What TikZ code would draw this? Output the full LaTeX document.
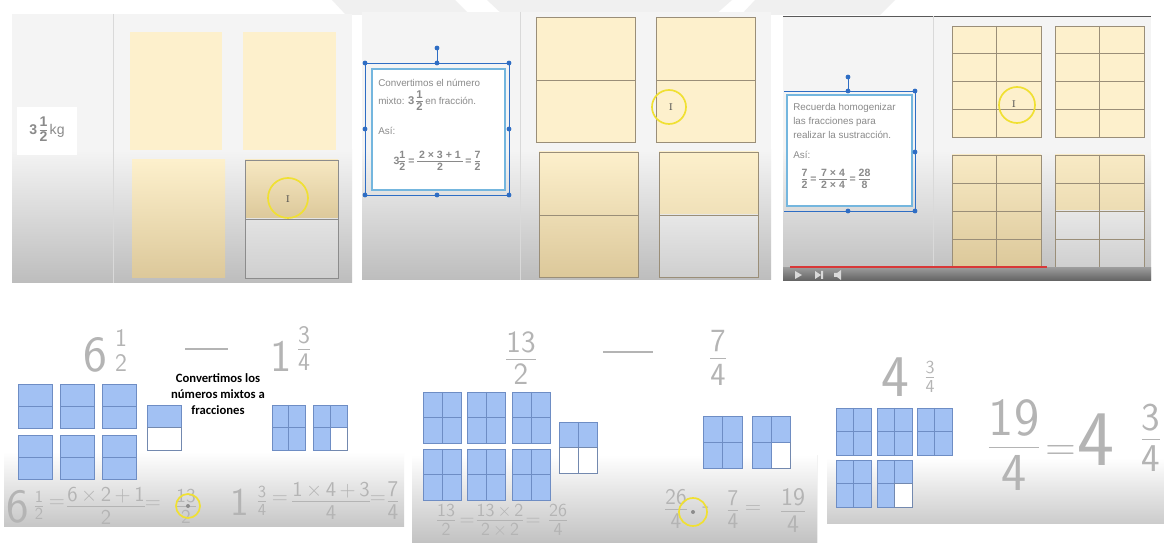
\documentclass[tikz,border=0pt]{standalone}
\usepackage{fontspec}
\newfontfamily\scrfont{Liberation Sans}
\newfontfamily\notefont{Carlito}
\definecolor{cream}{HTML}{FDF0CC}
\definecolor{deeptan}{HTML}{DCC89A}
\definecolor{boxline}{HTML}{9A8E78}
\definecolor{boxgray}{HTML}{CFCFCF}
\definecolor{scrbg}{HTML}{F4F4F4}
\definecolor{scrdark}{HTML}{BDBDBD}
\definecolor{scrtext}{HTML}{8A8A8A}
\definecolor{selblue}{HTML}{2E6DC4}
\definecolor{boxcyan}{HTML}{74B6DE}
\definecolor{ringyellow}{HTML}{F0E032}
\definecolor{barred}{HTML}{D83838}
\definecolor{sqblue}{HTML}{A2C1F3}
\definecolor{sqline}{HTML}{6E8DC4}
\definecolor{hwgray}{HTML}{B4B4B4}
\definecolor{wmark}{HTML}{F0F0F0}
% stacked fraction, bar width as option
\newcommand{\hfr}[3][0.7pt]{{\setlength{\arrayrulewidth}{#1}\renewcommand{\arraystretch}{0.7}%
  \begin{tabular}{@{}c@{}}#2\\\hline\rule{0pt}{0.8em}#3\end{tabular}}}
\newcommand{\hwf}[1]{\sffamily\fontsize{#1}{#1}\selectfont}

\begin{document}
\begin{tikzpicture}[x=0.025cm,y=-0.025cm,
   scr/.style={font=\scrfont\fontsize{7}{8}\selectfont,text=scrtext,inner sep=0pt},
   hw/.style={text=hwgray,inner sep=0pt},
   hwline/.style={draw=hwgray,line width=0.8pt},
   ring/.style={draw=ringyellow,line width=1.2pt},
   cur/.style={font=\fontsize{7}{7}\selectfont,text=black!70,inner sep=0pt},
   tanbox/.style={draw=boxline,line width=0.5pt},
   bsq/.style={fill=sqblue,draw=sqline,line width=0.6pt},
   wsq/.style={fill=white,draw=sqline!70!gray,line width=0.6pt},
   bdiv/.style={draw=sqline,line width=0.6pt}]
  \useasboundingbox (0,0) rectangle (1164,543);
  \fill[white] (0,0) rectangle (1164,543);
  % faint watermark at the top
  \fill[wmark] (332,0) -- (455,0) -- (470,15) -- (346,15) -- cycle;
  \fill[wmark] (487,0) -- (732,0) -- (715,15) -- (503,15) -- cycle;
  \fill[wmark] (755,0) -- (895,0) -- (880,15) -- (741,15) -- cycle;

  % ---- panel 1 : 3 1/2 kg ----
  \fill[scrbg] (12,14) rectangle (352,283);
  \shade[top color=scrbg,bottom color=scrdark] (12,150) rectangle (352,283);
  \draw[black!15] (113,14) -- (113,283);
  \node[scr,fill=white,minimum width=43pt,minimum height=34pt,
        font=\scrfont\fontsize{10}{11}\selectfont] (kg) at (47,131)
        {{\bfseries 3\,\hfr[0.5pt]{1}{2}}\,kg};
  \fill[cream] (130,32) rectangle (222,150);
  \fill[cream] (243,32) rectangle (336,150);
  \shade[top color=cream,bottom color=deeptan] (132,160) rectangle (225,278);
  \shade[top color=cream!80!deeptan,bottom color=deeptan] (245,160) rectangle (338,219);
  \shade[top color=boxgray!60!white,bottom color=boxgray] (245,219) rectangle (338,278);
  \draw[tanbox,draw=black!45] (245,160) rectangle (338,278) (245,219) -- (338,219);
  \draw[ring] (288,198) circle[radius=20];
  \node[cur] (curA) at (288,199) {I};

  % ---- panel 2 : mixed number to fraction ----
  \fill[scrbg] (362,12) rectangle (771,280);
  \shade[top color=scrbg,bottom color=scrdark] (362,150) rectangle (771,280);
  \draw[black!15] (520,12) -- (520,280);
  \fill[cream] (536,17) rectangle (635,142);
  \fill[cream] (656,17) rectangle (755,142);
  \draw[tanbox] (536,17) rectangle (635,142) (536,80) -- (635,80);
  \draw[tanbox] (656,17) rectangle (755,142) (656,80) -- (755,80);
  \shade[top color=cream,bottom color=deeptan] (539,152) rectangle (638,277);
  \draw[tanbox] (539,152) rectangle (638,277) (539,215) -- (638,215);
  \shade[top color=cream,bottom color=cream!60!deeptan] (659,152) rectangle (758,215);
  \shade[top color=boxgray!50!white,bottom color=boxgray] (659,215) rectangle (758,277);
  \draw[tanbox] (659,152) rectangle (758,277) (659,215) -- (758,215);
  \draw[ring] (669,107) circle[radius=17];
  \node[cur] (curB) at (671,107) {I};
  % text box with selection handles
  \fill[white] (372,69) rectangle (505,190);
  \draw[boxcyan,line width=1pt] (372,69) rectangle (505,190);
  \draw[selblue,line width=0.6pt] (365,63) rectangle (509,195) (437,48) -- (437,63);
  \foreach \p in {(365,63),(437,63),(509,63),(365,129),(509,129),(365,195),(437,195),(509,195),(437,48)}
    \fill[selblue] \p circle[radius=2.4];
  \node[scr,anchor=west] (convA) at (378,83) {Convertimos el número};
  \node[scr,anchor=west] (convB) at (378,102)
    {mixto: {\bfseries\fontsize{8}{9}\selectfont 3\,\hfr[0.4pt]{1}{2}} en fracción.};
  \node[scr,anchor=west] (convC) at (378,131) {Así:};
  \node[scr,font=\scrfont\fontsize{7.5}{8}\selectfont] (convEq) at (437,162)
    {\bfseries 3\hfr[0.4pt]{1}{2}\;=\;\hfr[0.4pt]{\,2 × 3 + 1\,}{2}\;=\;\hfr[0.4pt]{7}{2}};

  % ---- panel 3 : common denominator ----
  \fill[scrbg] (783,16) rectangle (1151,280);
  \shade[top color=scrbg,bottom color=scrdark] (783,150) rectangle (1151,280);
  \draw[black!65,line width=0.6pt] (783,16) -- (1151,16);
  \draw[black!15] (933,16) -- (933,268);
  \fill[cream] (952,26) rectangle (1041,137);
  \fill[cream] (1055,26) rectangle (1144,137);
  \shade[top color=cream!85!deeptan,bottom color=deeptan] (952,155) rectangle (1041,268);
  \shade[top color=cream!85!deeptan,bottom color=cream!50!deeptan] (1055,155) rectangle (1144,211);
  \shade[top color=boxgray!50!white,bottom color=boxgray] (1055,211) rectangle (1144,267);
  \foreach \x in {952,1055} {
    \draw[tanbox] (\x,26) rectangle +(89,111) (\x+44.5,26) -- +(0,111);
    \foreach \k in {1,2,3} \draw[tanbox] (\x,26+27.75*\k) -- +(89,0);
    \draw[tanbox] (\x,155) rectangle +(89,113) (\x+44.5,155) -- +(0,113);
    \foreach \k in {1,2,3} \draw[tanbox] (\x,155+28.1*\k) -- +(89,0);
  }
  \draw[ring] (1017,105) circle[radius=18];
  \node[cur] (curC) at (1014,104) {I};
  \fill[white] (787,95) rectangle (912,206);
  \draw[boxcyan,line width=1pt] (787,95) rectangle (912,206);
  \draw[selblue,line width=0.6pt] (784,91) -- (915,91) -- (915,211) -- (784,211) (848,77) -- (848,91);
  \foreach \p in {(848,91),(915,91),(915,152),(915,211),(848,211),(848,77)}
    \fill[selblue] \p circle[radius=2.4];
  \node[scr,anchor=west] (homA) at (793,108) {Recuerda homogenizar};
  \node[scr,anchor=west] (homB) at (793,122) {las fracciones para};
  \node[scr,anchor=west] (homC) at (793,135) {realizar la sustracción.};
  \node[scr,anchor=west] (homD) at (793,155) {Así:};
  \node[scr,font=\scrfont\fontsize{7.5}{8}\selectfont] (homEq) at (836,180)
    {\bfseries \hfr[0.4pt]{7}{2}\;=\;\hfr[0.4pt]{\,7 × 4\,}{2 × 4}\;=\;\hfr[0.4pt]{28}{8}};
  % player bar
  \shade[top color=black!40,bottom color=black!62] (783,268) rectangle (1151,281);
  \draw[barred,line width=1.5pt] (790,267) -- (1047,267);
  \fill[white!85!black] (795,271) -- (795,279) -- (802,275) -- cycle;
  \fill[white!85!black] (815,271) -- (815,279) -- (821,275) -- cycle (821,271) rectangle (823,279);
  \fill[white!85!black] (834,273) rectangle (837,277) (837,273) -- (841,270) -- (841,280) -- (837,277) -- cycle;

  % ---- panel 4 : 6 1/2 - 1 3/4 ----
  \shade[top color=white,bottom color=black!22] (4,452) rectangle (404,526);
  \node[hw,font=\hwf{36}] (six) at (95,355) {6};
  \node[hw,font=\hwf{18}] (sixFr) at (121,353) {\hfr[0pt]{1}{2}};
  \coordinate (dashAl) at (185,349);
  \coordinate (dashAr) at (228,349);
  \draw[hwline] (dashAl) -- (dashAr);
  \node[hw,font=\hwf{32}] (one) at (281,356) {1};
  \node[hw,font=\hwf{18}] (oneFr) at (304,351) {\hfr{3}{4}};
  \node[font=\notefont\bfseries\fontsize{9}{11.5}\selectfont,align=center,inner sep=0pt] (note)
    at (218,394) {Convertimos los\\números mixtos a\\fracciones};
  \foreach \x in {18,60,102}
    \foreach \y in {384,435} {
      \draw[bsq] (\x,\y) rectangle +(34,44);
      \draw[bdiv] (\x,\y+22) -- +(34,0);
    }
  \draw[bsq] (147,405) rectangle (181,427.5);
  \draw[wsq] (147,427.5) rectangle (181,450);
  \draw[bsq] (272,405) rectangle (305,450);
  \draw[bdiv] (288.5,405) -- (288.5,450) (272,427.5) -- (305,427.5);
  \draw[bsq] (313,405) rectangle (347,450);
  \draw[wsq] (330,427.5) rectangle (347,450);
  \draw[bdiv] (330,405) -- (330,450) (313,427.5) -- (347,427.5);
  % equations
  \node[hw,font=\hwf{34}] (eqAsix) at (18,507) {6};
  \node[hw,font=\hwf{12}] (eqAfr) at (39,507) {\hfr[0.5pt]{1}{2}};
  \node[hw,font=\hwf{15}] (eqAeq) at (57,504) {=};
  \node[hw,font=\hwf{15}] (eqAmid) at (106,508) {\hfr{6\,×\,2\,+\,1}{2}};
  \node[hw,font=\hwf{15}] (eqAeq2) at (153,505) {=};
  \node[hw,font=\hwf{14}] (eqAres) at (186,508) {\hfr{13}{2}};
  \draw[ring] (188,506) circle[radius=12];
  \fill[black!45] (188,506) circle[radius=2];
  \node[hw,font=\hwf{28}] (eqBone) at (240,502) {1};
  \node[hw,font=\hwf{12}] (eqBfr) at (262,503) {\hfr{3}{4}};
  \node[hw,font=\hwf{15}] (eqBeq) at (280,500) {=};
  \node[hw,font=\hwf{15}] (eqBmid) at (331,503) {\hfr{1\,×\,4\,+\,3}{4}};
  \node[hw,font=\hwf{15}] (eqBeq2) at (378,500) {=};
  \node[hw,font=\hwf{16}] (eqBres) at (393,503) {\hfr{7}{4}};

  % ---- panel 5 : 13/2 - 7/4 ----
  \begin{scope}
    \clip (412,290) rectangle (817,543);
    \shade[top color=white,bottom color=black!24] (412,455) rectangle (817,543);
    \draw[black!35] (817,455) -- (817,543);
    \node[hw,font=\hwf{22}] (thirteen) at (521,361) {\hfr{13}{2}};
    \coordinate (dashBl) at (603,352);
    \coordinate (dashBr) at (653,352);
    \draw[hwline] (dashBl) -- (dashBr);
    \node[hw,font=\hwf{23}] (seven) at (718,361) {\hfr{7}{4}};
    \foreach \x in {423,467,512}
      \foreach \y in {392,449} {
        \draw[bsq] (\x,\y) rectangle +(38,51);
        \draw[bdiv] (\x+19,\y) -- +(0,51) (\x,\y+25.5) -- +(38,0);
      }
    \draw[bsq] (559,422) rectangle (597,447.5);
    \draw[wsq] (559,447.5) rectangle (597,473);
    \draw[bdiv] (578,422) -- (578,447.5);
    \draw[wsq] (578,447.5) -- (578,473);
    \draw[bsq] (703,416) rectangle (742,468);
    \draw[bdiv] (722.5,416) -- (722.5,468) (703,442) -- (742,442);
    \draw[bsq] (752,416) rectangle (790,468);
    \draw[wsq] (771,442) rectangle (790,468);
    \draw[bdiv] (771,416) -- (771,468) (752,442) -- (790,442);
    % equations
    \node[hw,font=\hwf{13}] (eqCa) at (446,522) {\hfr{13}{2}};
    \node[hw,font=\hwf{14}] (eqCeq) at (467,522) {=};
    \node[hw,font=\hwf{13}] (eqCmid) at (500,522) {\hfr{13\,×\,2}{2\,×\,2}};
    \node[hw,font=\hwf{14}] (eqCeq2) at (533,522) {=};
    \node[hw,font=\hwf{13}] (eqCres) at (558,522) {\hfr{26}{4}};
    \node[hw,font=\hwf{16}] (eqDa) at (676,511) {\hfr{26}{4}};
    \node[hw,font=\hwf{16}] (eqDminus) at (706,510) {-};
    \node[hw,font=\hwf{16}] (eqDb) at (733,512) {\hfr{7}{4}};
    \node[hw,font=\hwf{16}] (eqDeq) at (753,509) {=};
    \node[hw,font=\hwf{18}] (eqDres) at (793,513) {\hfr{19}{4}};
    \draw[ring] (693,512) circle[radius=14];
    \fill[black!45] (693,512) circle[radius=2];
  \end{scope}

  % ---- panel 6 : 19/4 = 4 3/4 ----
  \begin{scope}
    \clip (827,290) rectangle (1164,543);
    \shade[top color=white,bottom color=black!20] (827,458) rectangle (1164,523);
    \node[hw,font=\hwf{42}] (four) at (895,377) {4};
    \node[hw,font=\hwf{13}] (fourFr) at (930,379) {\hfr{3}{4}};
    \foreach \x/\y in {836/408,877/408,917/408,836/460,877/460} {
      \draw[bsq] (\x,\y) rectangle +(35,47);
      \draw[bdiv] (\x+17.5,\y) -- +(0,47) (\x,\y+23.5) -- +(35,0);
    }
    \draw[wsq] (894.5,483.5) rectangle (912,507);
    \node[hw,font=\hwf{38}] (big) at (1014,451) {\hfr[0.9pt]{19}{4}};
    \node[hw,font=\hwf{30}] (bigEq) at (1061,453) {=};
    \node[hw,font=\hwf{56}] (bigFour) at (1096,440) {4};
    \node[hw,font=\hwf{28}] (bigFr) at (1151,442) {\hfr[0.9pt]{3}{4}};
  \end{scope}
\end{tikzpicture}
\end{document}
